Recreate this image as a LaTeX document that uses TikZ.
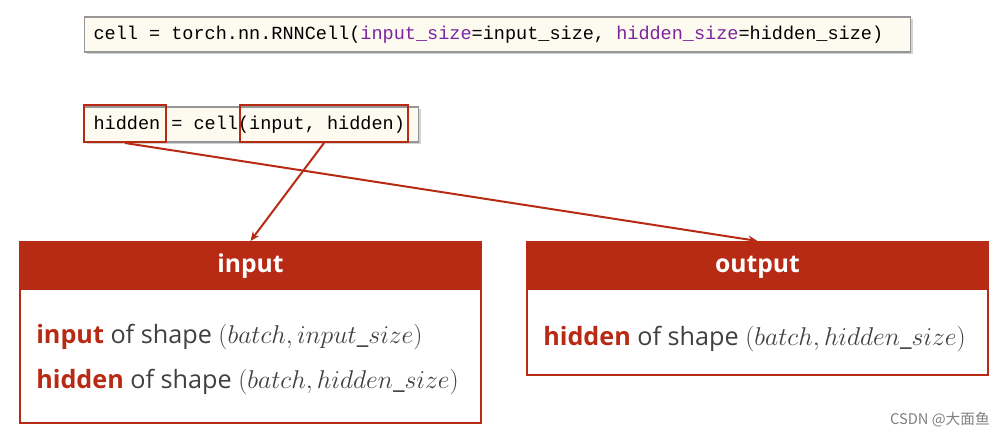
\documentclass[tikz,border=0pt]{standalone}
\usepackage{fontspec}
\setmainfont{Open Sans}
\setmonofont{Liberation Mono}
\newfontfamily\cjkfont{Noto Sans CJK SC}
\usepackage{graphicx}
\usepackage{tikz}
\usetikzlibrary{arrows.meta,shadows}
\usepackage{xcolor}
\definecolor{hdred}{RGB}{183,43,20}
\definecolor{kwpurple}{RGB}{125,35,160}
\definecolor{bodygray}{RGB}{64,64,64}
\definecolor{codebg}{RGB}{253,250,240}
\definecolor{codeframe}{RGB}{150,150,150}
\frenchspacing

\tikzset{
  codebox/.style={draw=codeframe,fill=codebg,line width=0.8pt,
    drop shadow={shadow xshift=1.5pt,shadow yshift=-1.5pt,opacity=0.35},
    anchor=west,inner xsep=6.75pt,minimum height=26.25pt,
    font=\fontsize{13.9}{16}\selectfont\ttfamily},
  redframe/.style={draw=hdred,line width=1.5pt,minimum height=27.75pt,inner sep=0pt},
  headbox/.style={fill=hdred,text=white,minimum width=345.75pt,minimum height=36.75pt,
    text height=12pt,text depth=1.4pt,font=\fontsize{18.5}{22}\selectfont\bfseries},
  bodybox/.style={draw=hdred,line width=1.5pt,minimum width=345.75pt,anchor=north},
  shapeline/.style={anchor=west,text=bodygray,inner sep=0pt,font=\fontsize{18.9}{22}\selectfont},
  link/.style={-{Stealth[length=7pt,width=6pt]},hdred,line width=1.5pt},
}

\newcommand{\kw}[1]{\textcolor{kwpurple}{#1}}
\newcommand{\hl}[1]{\textcolor{hdred}{\bfseries #1}}
\newcommand{\dims}[1]{\scalebox{0.93}{\fontsize{20.74}{22}\selectfont$(#1)$}}

\begin{document}
\begin{tikzpicture}[x=0.75pt,y=-0.75pt]

\useasboundingbox (0,0) rectangle (1005,436);

\def\boxtop{241}

% code lines
\node[codebox] (ctor) at (84,34.5)
  {\makebox[606pt][l]{cell = torch.nn.RNNCell(\kw{input\_size}=input\_size, \kw{hidden\_size}=hidden\_size)}};
\node[codebox] (call) at (84,124.5) {\makebox[237pt][l]{hidden = cell(input, hidden)}};
\node[redframe,minimum width=61.5pt] (lhs) at (125,123.5) {};
\node[redframe,minimum width=126pt] (args) at (324,123.5) {};

% input box
\node[bodybox,minimum height=135.75pt] (inbox) at (250.5,\boxtop) {};
\node[headbox,anchor=north] (inhead) at (inbox.north) {input};
\node[shapeline] (inl1) at (36,337) {\hl{input} of shape \dims{batch, input\_size}};
\node[shapeline] (inl2) at (36,382) {\hl{hidden} of shape \dims{batch, hidden\_size}};

% output box
\node[bodybox,minimum height=99.75pt] (outbox) at (757.5,\boxtop) {};
\node[headbox,anchor=north] (outhead) at (outbox.north) {output};
\node[shapeline] (outl1) at (543,339) {\hl{hidden} of shape \dims{batch, hidden\_size}};

\draw[link] (args.south) -- (inhead.north);
\draw[link] (lhs.south) -- (outhead.north);

\node[anchor=east,text=gray,inner sep=0pt,font=\cjkfont\fontsize{11}{13}\selectfont] (mark) at (990,420) {CSDN @大面鱼};

\end{tikzpicture}
\end{document}
